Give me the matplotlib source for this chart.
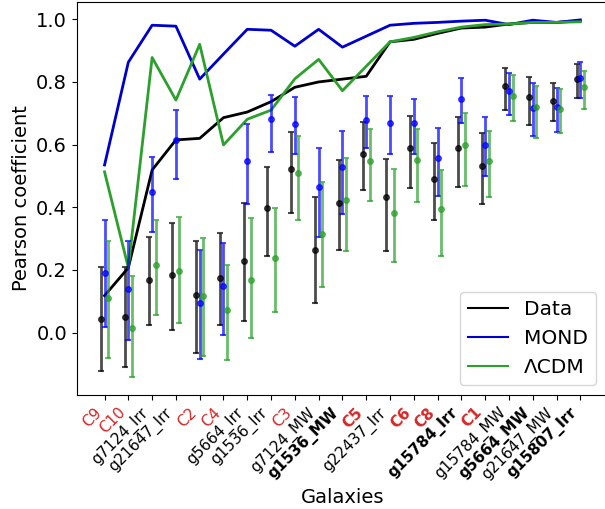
import matplotlib
matplotlib.use("Agg")
import matplotlib.pyplot as plt
import numpy as np
from matplotlib.lines import Line2D

galaxies = ["C9", "C10", "g7124_Irr", "g21647_Irr", "C2", "C4", "g5664_Irr",
            "g1536_Irr", "C3", "g7124_MW", "g1536_MW", "C5", "g22437_Irr",
            "C6", "C8", "g15784_Irr", "C1", "g15784_MW", "g5664_MW",
            "g21647_MW", "g15807_Irr"]
red_labels = ["C9", "C10", "C2", "C4", "C3", "C5", "C6", "C8", "C1"]
bold_labels = ["g1536_MW", "C5", "C6", "C8", "g15784_Irr", "C1",
               "g5664_MW", "g15807_Irr"]

# cumulative / summary lines
data_line = [0.118, 0.207, 0.519, 0.615, 0.620, 0.686, 0.704, 0.737, 0.783,
             0.800, 0.809, 0.818, 0.928, 0.936, 0.955, 0.972, 0.975, 0.985,
             0.990, 0.990, 0.995]
mond_line = [0.535, 0.863, 0.981, 0.978, 0.809, 0.889, 0.968, 0.965, 0.914,
             0.968, 0.911, 0.946, 0.981, 0.987, 0.990, 0.994, 0.997, 0.983,
             0.997, 0.990, 0.998]
lcdm_line = [0.513, 0.207, 0.878, 0.742, 0.920, 0.599, 0.681, 0.710, 0.810,
             0.872, 0.772, 0.850, 0.928, 0.942, 0.960, 0.975, 0.983, 0.985,
             0.990, 0.990, 0.992]

# per-galaxy points with lower / upper error bar ends
data_val = [0.045, 0.051, 0.169, 0.183, 0.119, 0.174, 0.230, 0.397, 0.521,
            0.264, 0.413, 0.569, 0.433, 0.590, 0.489, 0.588, 0.533, 0.788,
            0.751, 0.739, 0.809]
data_lo = [-0.121, -0.110, 0.025, 0.007, -0.066, 0.025, 0.036, 0.245, 0.383,
           0.093, 0.265, 0.454, 0.259, 0.463, 0.358, 0.464, 0.412, 0.712,
           0.661, 0.676, 0.748]
data_hi = [0.211, 0.210, 0.306, 0.350, 0.291, 0.319, 0.413, 0.530, 0.639,
           0.434, 0.551, 0.671, 0.554, 0.690, 0.604, 0.688, 0.637, 0.845,
           0.817, 0.798, 0.858]

mond_val = [0.190, 0.140, 0.449, 0.615, 0.095, 0.150, 0.549, 0.682, 0.666,
            0.464, 0.527, 0.678, 0.670, 0.670, 0.558, 0.746, 0.600, 0.772,
            0.718, 0.719, 0.813]
mond_lo = [0.017, -0.024, 0.321, 0.489, -0.083, -0.009, 0.411, 0.577, 0.569,
           0.305, 0.380, 0.590, 0.570, 0.570, 0.437, 0.669, 0.501, 0.696,
           0.626, 0.641, 0.748]
mond_hi = [0.360, 0.293, 0.561, 0.711, 0.265, 0.285, 0.666, 0.758, 0.752,
           0.590, 0.643, 0.756, 0.755, 0.745, 0.654, 0.811, 0.687, 0.828,
           0.797, 0.781, 0.863]

lcdm_val = [0.112, 0.016, 0.217, 0.197, 0.116, 0.071, 0.169, 0.239, 0.511,
            0.314, 0.424, 0.547, 0.381, 0.550, 0.396, 0.598, 0.548, 0.756,
            0.720, 0.713, 0.783]
lcdm_lo = [-0.081, -0.142, 0.055, 0.031, -0.075, -0.086, -0.018, 0.065, 0.361,
           0.147, 0.259, 0.421, 0.224, 0.416, 0.243, 0.469, 0.433, 0.674,
           0.622, 0.638, 0.714]
lcdm_hi = [0.293, 0.180, 0.358, 0.370, 0.303, 0.217, 0.367, 0.397, 0.627,
           0.482, 0.557, 0.650, 0.522, 0.651, 0.519, 0.700, 0.645, 0.822,
           0.788, 0.776, 0.835]

x = np.arange(len(galaxies))

fig = plt.figure(figsize=(6.05, 5.09), dpi=100)
ax = fig.add_axes([0.127, 0.224, 0.878, 0.772])

ax.plot(x, data_line, color="black", lw=2)
ax.plot(x, mond_line, color="#0000cc", lw=2)
ax.plot(x, lcdm_line, color="#2ca02c", lw=2)


def bars(offset, val, lo, hi, color):
    val = np.array(val)
    yerr = [val - np.array(lo), np.array(hi) - val]
    ax.errorbar(x + offset, val, yerr=yerr, fmt="o", color=color, ms=4,
                elinewidth=2, capsize=2, capthick=1.5, alpha=0.7)


bars(-0.15, data_val, data_lo, data_hi, "black")
bars(0.0, mond_val, mond_lo, mond_hi, "blue")
bars(0.15, lcdm_val, lcdm_lo, lcdm_hi, "#2ca02c")

ax.set_xlim(-1.165, 21.165)
ax.set_ylim(-0.199, 1.055)
ax.set_xticks(x)
ax.set_xticklabels(galaxies, rotation=45, ha="right", fontsize=11)
for lab in ax.get_xticklabels():
    t = lab.get_text()
    if t in red_labels:
        lab.set_color("#d62728")
    if t in bold_labels:
        lab.set_fontweight("bold")
ax.tick_params(axis="y", labelsize=14)
ax.set_ylabel("Pearson coefficient", fontsize=14)
ax.set_xlabel("Galaxies", fontsize=14)

handles = [Line2D([], [], color="black", lw=1.5),
           Line2D([], [], color="#0000cc", lw=1.5),
           Line2D([], [], color="#2ca02c", lw=1.5)]
ax.legend(handles, ["Data", "MOND", "ΛCDM"], loc="lower right", fontsize=14.5,
          bbox_to_anchor=(596 / 605, 124 / 509), bbox_transform=fig.transFigure,
          borderaxespad=0)

fig.savefig("out.png", dpi=100)
